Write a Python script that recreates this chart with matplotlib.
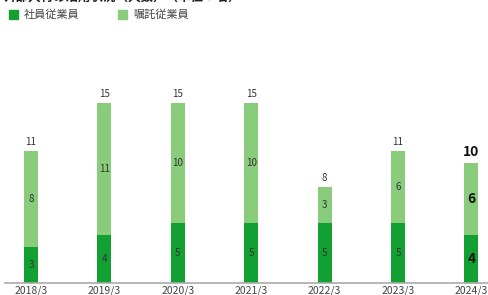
import matplotlib
matplotlib.use("Agg")
import matplotlib.pyplot as plt
from matplotlib.patches import Rectangle

plt.rcParams['font.family'] = ['Noto Sans CJK JP', 'DejaVu Sans']

categories = ["2018/3", "2019/3", "2020/3", "2021/3", "2022/3", "2023/3", "2024/3"]
regular = [3, 4, 5, 5, 5, 5, 4]
contract = [8, 11, 10, 10, 3, 6, 6]
series_names = ["社員従業員", "嘱託従業員"]
title_text = "外部人材の活用状況（人数）（単位：名）"

c_dark = "#13a033"
c_light = "#88cc7c"

W, H = 488, 295
fig = plt.figure(figsize=(W / 100, H / 100), dpi=100)
ax = fig.add_axes([5 / W, 12 / H, 483 / W, 263 / H])

x = list(range(len(categories)))
bw = 0.19
ax.bar(x, regular, width=bw, color=c_dark, linewidth=0)
ax.bar(x, contract, width=bw, bottom=regular, color=c_light, linewidth=0)

last = len(categories) - 1
for i in x:
    tot = regular[i] + contract[i]
    if i == last:
        kw = dict(fontsize=10, fontweight='bold', color='#111111')
        off = 0.35
    else:
        kw = dict(fontsize=7, color='#333333')
        off = 0.3
    ax.text(i, regular[i] / 2, str(regular[i]), ha='center', va='center', **kw)
    ax.text(i, regular[i] + contract[i] / 2, str(contract[i]), ha='center', va='center', **kw)
    ax.text(i, tot + off, str(tot), ha='center', va='bottom', **kw)

ax.set_xlim(-0.354, -0.354 + 483 / 73.4)
ax.set_ylim(0, 263 / 12)
for s in ['top', 'right', 'left']:
    ax.spines[s].set_visible(False)
ax.spines['bottom'].set_color('#aaaaaa')
ax.spines['bottom'].set_linewidth(1.2)
ax.set_yticks([])
ax.set_xticks(x)
ax.set_xticklabels(categories, fontsize=7.5, color='#444444')
ax.tick_params(axis='x', length=0, pad=2)

# legend
fig.patches.append(Rectangle((9 / W, 1 - 19 / H), 9 / W, 9 / H, transform=fig.transFigure,
                             color=c_dark, figure=fig))
fig.text(24 / W, 1 - 14.5 / H, series_names[0], fontsize=8, color='#444444', va='center', ha='left')
fig.patches.append(Rectangle((118 / W, 1 - 19 / H), 9 / W, 9 / H, transform=fig.transFigure,
                             color=c_light, figure=fig))
fig.text(133 / W, 1 - 14.5 / H, series_names[1], fontsize=8, color='#444444', va='center', ha='left')

# title (mostly cropped at top, as in the reference)
fig.text(4 / W, 1 - 4 / H, title_text, fontsize=9, fontweight='bold', color='#222222',
         va='bottom', ha='left')

fig.savefig("out.png", dpi=100)
